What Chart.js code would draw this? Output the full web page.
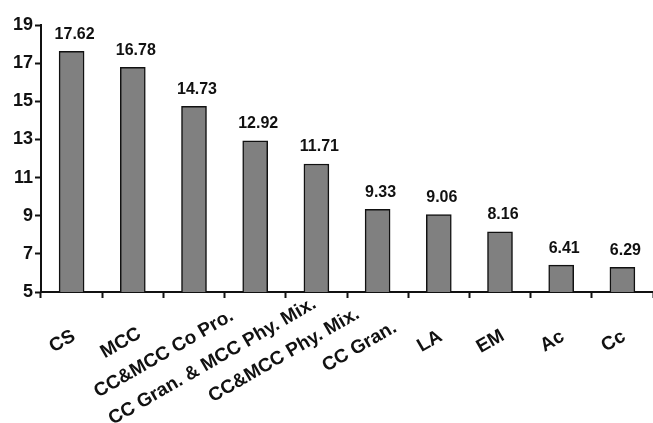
<!DOCTYPE html>
<html>
<head>
<meta charset="utf-8">
<script src="https://cdn.jsdelivr.net/npm/chart.js@4/dist/chart.umd.min.js"></script>
<style>
  html, body { margin: 0; padding: 0; background: #fff; }
  #wrap { width: 653px; height: 423px; }
</style>
</head>
<body>
<div id="wrap"><canvas id="chart" width="653" height="423"></canvas></div>
<script>
const categories = ['CS', 'MCC', 'CC&MCC Co Pro.', 'CC Gran. & MCC Phy. Mix.', 'CC&MCC Phy. Mix.', 'CC Gran.', 'LA', 'EM', 'Ac', 'Cc'];
const values = [17.62, 16.78, 14.73, 12.92, 11.71, 9.33, 9.06, 8.16, 6.41, 6.29];
const yMin = 5;
const yMax = 19;
const yStep = 2;

const FONT = '"Liberation Sans", Arial, sans-serif';

// value labels above each bar
const valueLabels = {
  id: 'valueLabels',
  afterDatasetsDraw(chart) {
    const { ctx } = chart;
    const meta = chart.getDatasetMeta(0);
    ctx.save();
    ctx.font = 'bold 16px ' + FONT;
    ctx.fillStyle = '#111';
    ctx.textAlign = 'center';
    ctx.textBaseline = 'bottom';
    meta.data.forEach((bar, i) => {
      ctx.fillText(values[i].toFixed(2), bar.x + 3, bar.y - 9);
    });
    ctx.restore();
  }
};

// rotated x labels centred under their bar instead of end-aligned
const centreXLabels = {
  id: 'centreXLabels',
  beforeDraw(chart) {
    const scale = chart.scales.x;
    const { ctx } = chart;
    const items = scale.getLabelItems();
    ctx.save();
    items.forEach((item, i) => {
      ctx.font = item.font.string;
      const w = ctx.measureText(item.label).width;
      const px = scale.getPixelForTick(i);
      item.textOffset = 0;
      item.options.textAlign = 'center';
      item.options.textBaseline = 'middle';
      item.options.translation = [px - 5 - 0.16 * w, scale.top + 47 + 0.095 * w];
    });
    ctx.restore();
  }
};

new Chart(document.getElementById('chart'), {
  type: 'bar',
  data: {
    labels: categories,
    datasets: [{
      data: values,
      backgroundColor: '#808080',
      borderColor: '#111',
      borderWidth: 1.5,
      borderSkipped: 'bottom',
      barThickness: 25
    }]
  },
  options: {
    responsive: false,
    animation: false,
    layout: { padding: { top: 25, right: 0, left: 0, bottom: 0 } },
    plugins: {
      legend: { display: false },
      tooltip: { enabled: false }
    },
    scales: {
      x: {
        offset: true,
        grid: {
          offset: true,
          drawOnChartArea: false,
          drawTicks: true,
          tickLength: 6,
          tickColor: '#111',
          tickWidth: 2
        },
        border: { color: '#111', width: 2 },
        ticks: {
          color: '#111',
          font: { family: FONT, size: 19, weight: 'bold' },
          minRotation: 30,
          maxRotation: 30,
          autoSkip: false,
          padding: 4
        },
        afterFit(scale) { scale.height = 131; }
      },
      y: {
        min: yMin,
        max: yMax,
        grid: {
          drawOnChartArea: false,
          drawTicks: true,
          tickLength: 6,
          tickColor: '#111',
          tickWidth: 2
        },
        border: { color: '#111', width: 2 },
        ticks: {
          stepSize: yStep,
          color: '#111',
          font: { family: FONT, size: 18, weight: 'bold' },
          padding: 2
        },
        afterFit(scale) { scale.width = 41; }
      }
    }
  },
  plugins: [valueLabels, centreXLabels]
});
</script>
</body>
</html>
